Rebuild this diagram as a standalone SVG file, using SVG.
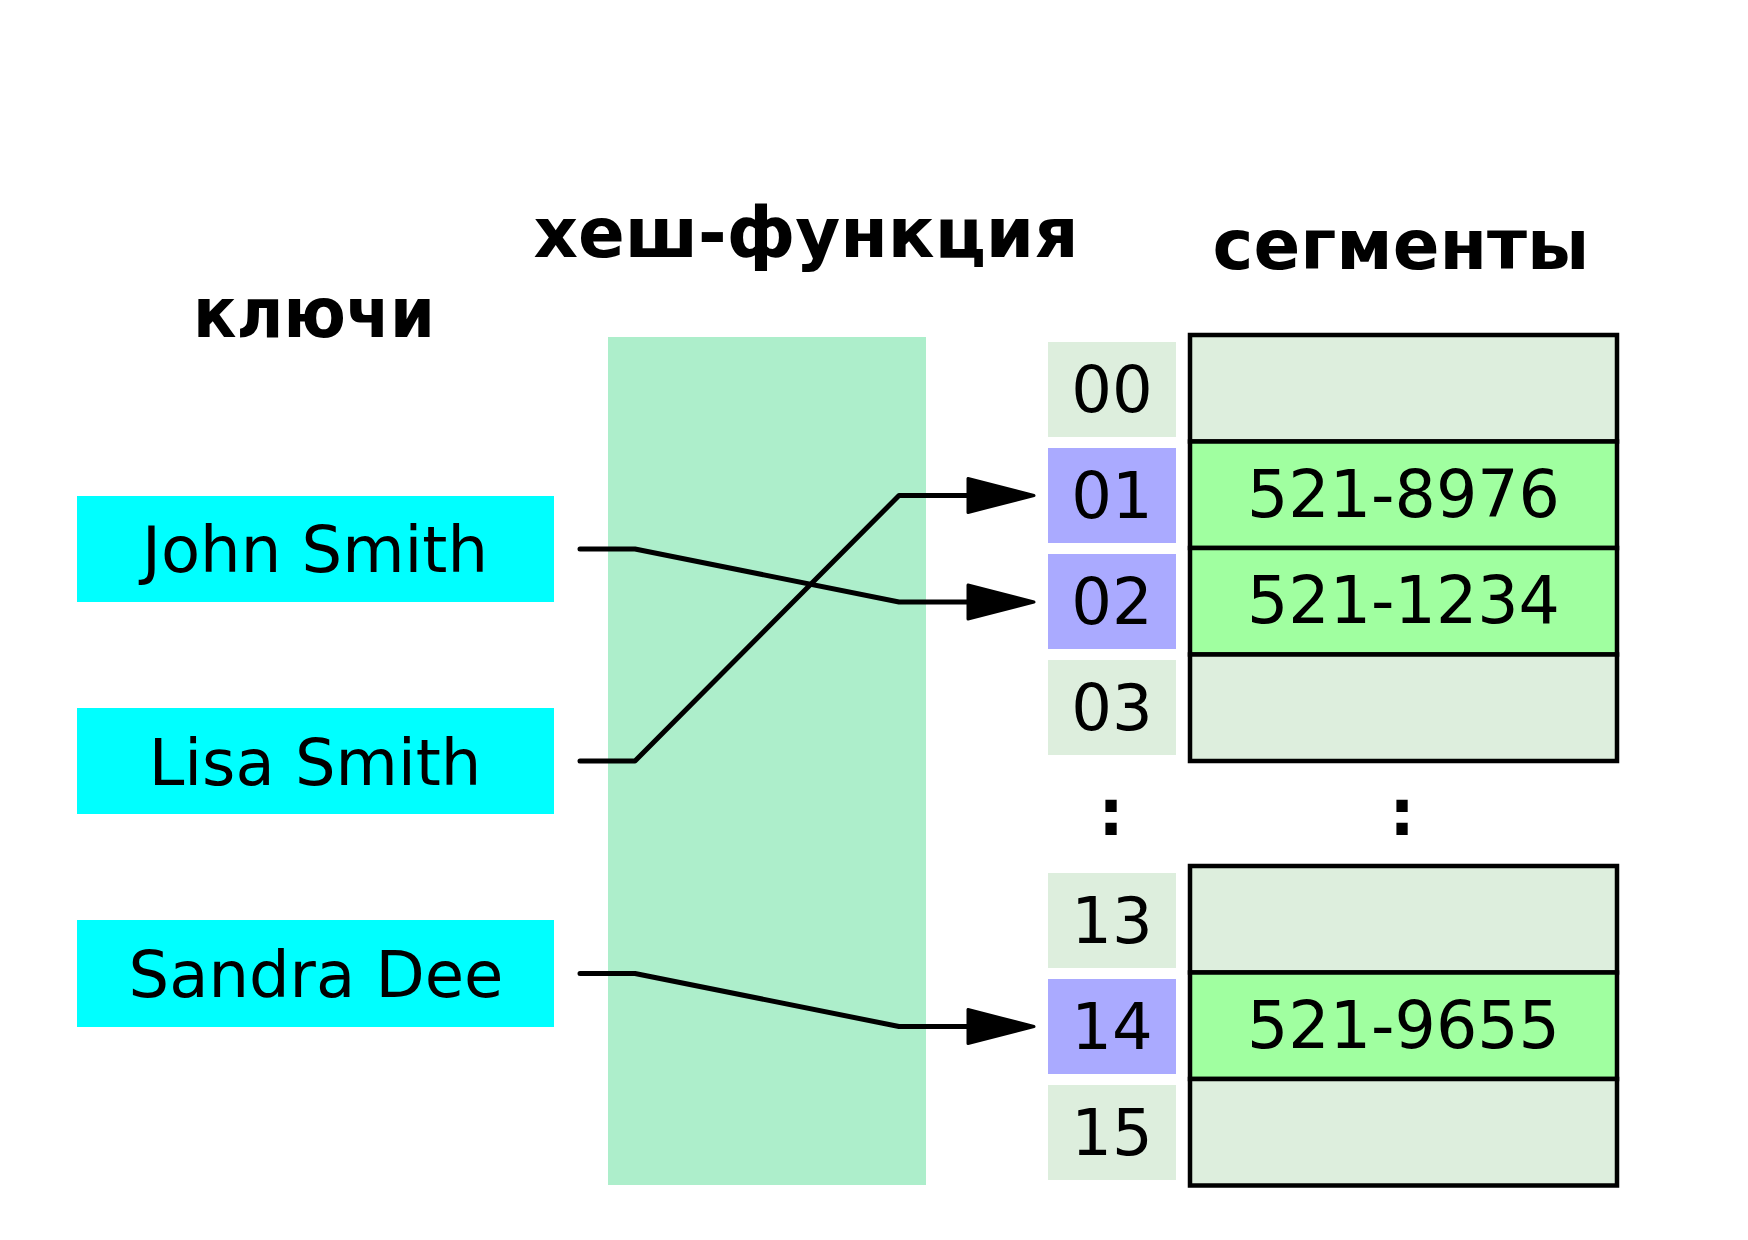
<svg xmlns="http://www.w3.org/2000/svg" width="1748" height="1240" viewBox="0 0 1748 1240">
<style>
.title{font-family:"DejaVu Sans","Liberation Sans",sans-serif;font-weight:bold;font-size:69px;fill:#000;text-anchor:middle}
.lbl{font-family:"DejaVu Sans","Liberation Sans",sans-serif;font-size:64px;fill:#000;text-anchor:middle}
.num{font-family:"DejaVu Sans","Liberation Sans",sans-serif;font-size:65px;fill:#000;text-anchor:middle}
.key{fill:#00ffff}
.idx{fill:#ddeedd}
.idxh{fill:#aaaaff}
.empty{fill:#ddeedd;stroke:#000;stroke-width:4.5}
.full{fill:#a0ffa0;stroke:#000;stroke-width:4.5}
.conn{fill:none;stroke:#000;stroke-width:5;stroke-linejoin:round;stroke-linecap:round}
.dots{font-family:"DejaVu Sans","Liberation Sans",sans-serif;font-weight:bold;font-size:64px;fill:#000;text-anchor:middle}
</style>
<defs>
<marker id="arrow" markerUnits="userSpaceOnUse" markerWidth="80" markerHeight="48" viewBox="-74 -24 80 48" refX="-34" refY="0" orient="auto">
<path d="M-1,0 L-67,-17 L-67,17 Z" fill="#000" stroke="#000" stroke-width="3" stroke-linejoin="round"/>
</marker>
</defs>
<rect width="1748" height="1240" fill="#fff"/>

<g id="titles">
<text class="title" x="314" y="337" font-size="62" textLength="242" lengthAdjust="spacingAndGlyphs">ключи</text>
<text class="title" x="806" y="257" font-size="70">хеш-функция</text>
<text class="title" x="1401" y="269">сегменты</text>
</g>

<g id="hash-function">
<rect x="608" y="337" width="318" height="848" fill="#adeecb"/>
</g>

<g id="key-john">
<rect class="key" x="77" y="496" width="477" height="106"/>
<text class="lbl" x="315" y="572">John Smith</text>
</g>
<g id="key-lisa">
<rect class="key" x="77" y="708" width="477" height="106"/>
<text class="lbl" x="315" y="785">Lisa Smith</text>
</g>
<g id="key-sandra">
<rect class="key" x="77" y="920" width="477" height="107"/>
<text class="lbl" x="316" y="997">Sandra Dee</text>
</g>

<g id="index-00"><rect class="idx" x="1048" y="342" width="128" height="95"/><text class="lbl" x="1112" y="412">00</text></g>
<g id="index-01"><rect class="idxh" x="1048" y="448" width="128" height="95"/><text class="lbl" x="1112" y="518">01</text></g>
<g id="index-02"><rect class="idxh" x="1048" y="554" width="128" height="95"/><text class="lbl" x="1112" y="624">02</text></g>
<g id="index-03"><rect class="idx" x="1048" y="660" width="128" height="95"/><text class="lbl" x="1112" y="730">03</text></g>
<g id="index-13"><rect class="idx" x="1048" y="873" width="128" height="95"/><text class="lbl" x="1112" y="943">13</text></g>
<g id="index-14"><rect class="idxh" x="1048" y="979" width="128" height="95"/><text class="lbl" x="1112" y="1049">14</text></g>
<g id="index-15"><rect class="idx" x="1048" y="1085" width="128" height="95"/><text class="lbl" x="1112" y="1155">15</text></g>

<g id="bucket-00"><rect class="empty" x="1190" y="335" width="427" height="106.5"/></g>
<g id="bucket-01"><rect class="full" x="1190" y="441.5" width="427" height="106.5"/><text class="num" x="1403.5" y="517">521-8976</text></g>
<g id="bucket-02"><rect class="full" x="1190" y="548" width="427" height="106.5"/><text class="num" x="1403.5" y="623">521-1234</text></g>
<g id="bucket-03"><rect class="empty" x="1190" y="654.5" width="427" height="106.5"/></g>
<g id="bucket-13"><rect class="empty" x="1190" y="866" width="427" height="106.5"/></g>
<g id="bucket-14"><rect class="full" x="1190" y="972.5" width="427" height="106.5"/><text class="num" x="1403.5" y="1048">521-9655</text></g>
<g id="bucket-15"><rect class="empty" x="1190" y="1079" width="427" height="106.5"/></g>

<g id="ellipsis">
<text class="dots" x="1111" y="835">:</text>
<text class="dots" x="1402" y="835">:</text>
</g>

<g id="connectors">
<polyline class="conn" points="580,549 635,549 899,602 1001,602" marker-end="url(#arrow)"/>
<polyline class="conn" points="580,761 635,761 899,495.5 1001,495.5" marker-end="url(#arrow)"/>
<polyline class="conn" points="580,973.5 635,973.5 899,1026.5 1001,1026.5" marker-end="url(#arrow)"/>
</g>
</svg>
